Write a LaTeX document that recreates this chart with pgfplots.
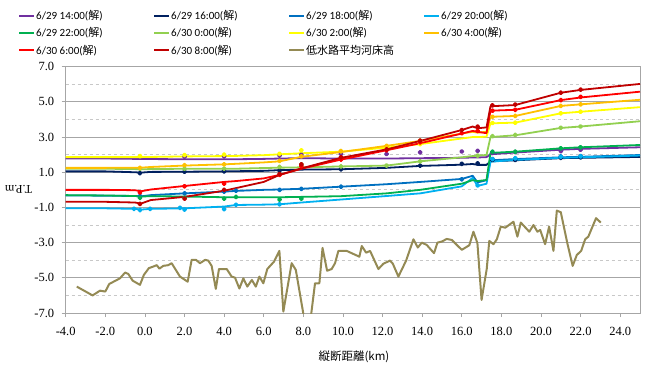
\documentclass[border=0pt]{standalone}
\usepackage{pgfplots}
\pgfplotsset{compat=1.18}
\usepackage{pgfplotstable}
\usepackage{fontspec}
\setmainfont{Liberation Serif}
\newfontfamily\calibri{Carlito}
\newfontfamily\cjk{Noto Sans CJK JP}
\definecolor{cA}{HTML}{7030A0}
\definecolor{cB}{HTML}{002060}
\definecolor{cC}{HTML}{0070C0}
\definecolor{cD}{HTML}{00B0F0}
\definecolor{cE}{HTML}{00B050}
\definecolor{cF}{HTML}{92D050}
\definecolor{cG}{HTML}{FFFF00}
\definecolor{cH}{HTML}{FFC000}
\definecolor{cI}{HTML}{FF0000}
\definecolor{cJ}{HTML}{C00000}
\definecolor{cR}{HTML}{948A54}
\definecolor{gridc}{HTML}{A6A6A6}
\definecolor{minc}{HTML}{C8C8C8}

\pgfplotstableread{
x     A    B    C     D     E     F    G    H    I     J
-4    1.78 1.05 -0.32 -1.05 -0.30 1.20 1.86 1.25 0.00  -0.68
-2    1.78 1.05 -0.33 -1.05 -0.32 1.20 1.86 1.25 0.00  -0.68
-0.5  1.76 1.00 -0.35 -1.08 -0.35 1.18 1.86 1.26 -0.02 -0.72
-0.2  1.75 0.98 -0.37 -1.12 -0.38 1.17 1.86 1.26 -0.08 -0.78
0.3   1.75 1.02 -0.30 -1.08 -0.36 1.18 1.87 1.30 0.02  -0.58
2     1.74 1.03 -0.20 -1.05 -0.38 1.20 1.90 1.38 0.22  -0.40
4     1.74 1.05 -0.10 -0.95 -0.42 1.20 1.92 1.45 0.45  -0.05
4.6   1.74 1.06 -0.06 -0.86 -0.42 1.20 1.93 1.48 0.50  0.10
6     1.76 1.08 0.00  -0.84 -0.42 1.24 1.97 1.56 0.65  0.45
6.8   1.78 1.12 0.02  -0.82 -0.42 1.26 2.02 1.62 0.85  0.85
7.9   1.80 1.15 0.06  -0.72 -0.40 1.28 2.08 1.88 1.20  1.22
9.9   1.78 1.17 0.18  -0.55 -0.36 1.33 2.17 2.15 1.72  1.82
12.2  1.78 1.25 0.32  -0.35 -0.20 1.38 2.40 2.50 2.25  2.30
13.9  1.80 1.36 0.45  -0.20 0.00  1.62 2.60 2.78 2.65  2.78
16.0  1.82 1.43 0.62  0.20  0.35  1.85 2.92 3.20 3.20  3.40
16.55 1.84 1.47 0.80  0.68  0.55  1.92 3.00 3.30 3.35  3.60
16.8  1.84 1.42 0.42  0.22  0.50  1.95 3.00 3.25 3.30  3.50
17.25 1.86 1.42 0.55  0.35  0.56  1.98 3.02 3.30 3.22  3.55
17.45 2.02 1.62 1.68  1.60  2.10  3.00 3.78 4.15 4.50  4.75
18.7  2.12 1.68 1.75  1.70  2.17  3.10 3.82 4.20 4.55  4.82
21.0  2.28 1.80 1.85  1.82  2.36  3.52 4.35 4.77 5.10  5.52
22.0  2.33 1.82 1.88  1.85  2.42  3.60 4.44 4.86 5.25  5.68
25.0  2.42 1.87 1.98  1.95  2.55  3.90 4.70 5.12 5.58  6.02
}\lines

\pgfplotstableread{
x     A    B    C     D     E     F    G    H    I     J
-0.55 nan  nan  nan   -1.08 nan   nan  nan  nan  nan   nan
-0.25 nan  0.95 -0.35 -1.15 -0.45 1.20 1.92 1.25 -0.15 -0.80
0.26  nan  nan  nan   -1.08 nan   nan  nan  nan  nan   nan
1.77  nan  nan  nan   -1.02 nan   nan  nan  nan  nan   nan
2.0   1.88 1.03 -0.20 -1.12 -0.45 1.20 1.98 1.40 0.20  -0.50
4.0   1.90 1.05 -0.10 -1.10 -0.50 1.20 2.00 1.45 0.35  0.00
4.6   nan  nan  -0.05 -0.85 -0.40 nan  nan  nan  nan   nan
6.8   1.95 1.10 0.00  -0.82 -0.55 1.30 2.05 1.65 0.85  0.90
7.9   2.00 nan  0.05  nan   -0.50 1.45 2.25 1.90 1.35  1.45
9.9   2.04 1.17 0.18  nan   nan   1.33 2.20 2.20 1.72  1.85
12.2  2.04 nan  nan   nan   nan   1.38 nan  2.50 2.25  2.30
13.9  2.13 1.38 nan   nan   nan   1.62 2.60 2.80 2.70  2.80
16.0  2.18 1.48 0.60  nan   nan   nan  nan  nan  3.22  3.40
16.8  2.22 1.50 nan   0.25  nan   1.95 nan  nan  3.35  3.60
17.55 2.10 1.70 1.75  1.75  2.17  3.05 3.80 4.15 4.50  4.80
18.7  2.15 1.70 1.78  1.80  2.17  3.12 3.82 4.20 4.55  4.85
21.0  2.20 1.82 1.90  1.88  2.36  3.53 4.35 4.77 5.10  5.52
22.0  2.28 1.85 1.92  1.90  2.42  3.60 4.44 4.86 5.28  5.70
}\marks

\pgfplotstableread{
x y
-3.44 -5.5
-2.64 -6.0
-2.27 -5.73
-2.0 -5.78
-1.8 -5.35
-1.26 -5.03
-1.0 -4.7
-0.84 -4.78
-0.62 -5.16
-0.25 -5.4
-0.05 -4.83
0.2 -4.45
0.42 -4.36
0.6 -4.28
0.73 -4.48
0.93 -4.32
1.18 -4.28
1.35 -4.17
1.77 -4.93
2.16 -5.22
2.36 -3.98
2.58 -3.98
2.78 -4.17
3.04 -3.98
3.2 -4.02
3.37 -4.32
3.58 -5.63
3.74 -4.5
4.13 -4.5
4.38 -4.93
4.55 -4.99
4.77 -5.61
4.97 -5.03
5.17 -5.5
5.4 -5.12
5.6 -5.5
5.78 -4.93
5.98 -5.31
6.18 -4.5
6.52 -4.08
6.79 -3.47
6.99 -6.92
7.41 -4.17
7.62 -4.55
8.04 -7.3
8.37 -7.3
8.59 -5.31
8.81 -5.31
8.97 -3.3
9.2 -4.6
9.43 -4.5
9.6 -4.17
9.77 -3.47
10.19 -3.47
10.83 -3.8
10.95 -3.19
11.17 -3.57
11.37 -3.47
11.79 -4.5
12.04 -4.2
12.38 -4.02
12.52 -4.2
12.8 -4.93
13.19 -4.02
13.56 -2.81
13.78 -3.28
13.98 -3.0
14.23 -3.13
14.6 -3.6
14.77 -3.0
14.99 -2.94
15.24 -2.79
15.5 -2.85
16.0 -3.41
16.38 -3.15
16.59 -2.38
16.79 -3.03
17.0 -6.26
17.26 -4.5
17.39 -2.9
17.6 -3.09
17.77 -2.81
17.97 -2.09
18.2 -2.15
18.61 -1.81
18.81 -2.66
18.98 -1.86
19.41 -2.38
19.62 -2.0
19.82 -2.38
19.96 -2.28
20.21 -3.09
20.41 -2.09
20.63 -3.47
20.8 -1.18
21.0 -1.27
21.33 -3.03
21.6 -4.32
21.81 -3.7
22.03 -3.47
22.23 -2.81
22.39 -2.66
22.78 -1.61
23.02 -1.86
}\bed

\newcommand{\legtxt}[1]{\makebox[116pt][l]{#1}}

\begin{document}
\begin{tikzpicture}
\useasboundingbox (-65.7pt,-55pt) rectangle (585.3pt,313pt);
\begin{axis}[
  at={(0pt,0pt)}, anchor=south west,
  scale only axis, width=574.3pt, height=246.3pt,
  xmin=-4, xmax=25, ymin=-7, ymax=7,
  xtick={-4,-2,...,24}, ytick={-7,-5,...,7}, minor ytick={-6,-4,...,6},
  ymajorgrids, yminorgrids,
  major grid style={gridc, line width=0.8pt},
  minor grid style={minc, dashed, line width=0.8pt},
  axis line style={gridc, line width=0.8pt},
  tick style={gridc, line width=0.8pt},
  tick align=outside, tick pos=left,
  major tick length=4pt, minor tick length=0pt,
  /pgf/number format/assume math mode=true,
  /pgf/number format/.cd, fixed, fixed zerofill, precision=1, /pgfplots/.cd,
  tick label style={font=\fontsize{12.5}{14}\selectfont},
  xticklabel style={yshift=-7pt},
  yticklabel style={xshift=-4pt},
  ylabel={T.P.m},
  ylabel style={at={(axis description cs:-0.082,0.503)}, anchor=center, rotate=90, font=\fontsize{12}{14}\selectfont},
  xlabel={{\cjk 縦断距離(km)}},
  xlabel style={at={(axis description cs:0.502,0)}, anchor=center, yshift=-43.7pt, font=\fontsize{11.5}{13}\selectfont},
  legend columns=4,
  legend image code/.code={\draw[#1, line width=2pt] (0pt,0pt) -- (15pt,0pt);},
  legend style={at={(axis description cs:-0.083,1.234)}, anchor=north west,
    draw=none, fill=none, inner sep=0pt, column sep=0pt, row sep=4.5pt,
    font=\calibri\fontsize{11}{13}\selectfont,
    nodes={inner sep=1pt, anchor=west}},
  every axis plot/.append style={line width=1.8pt, line join=round},
]
\addplot[cA, no marks] table[x=x,y=A]{\lines}; \addlegendentry{\legtxt{6/29 14:00({\cjk 解})}}
\addplot[cB, no marks] table[x=x,y=B]{\lines}; \addlegendentry{\legtxt{6/29 16:00({\cjk 解})}}
\addplot[cC, no marks] table[x=x,y=C]{\lines}; \addlegendentry{\legtxt{6/29 18:00({\cjk 解})}}
\addplot[cD, no marks] table[x=x,y=D]{\lines}; \addlegendentry{\legtxt{6/29 20:00({\cjk 解})}}
\addplot[cE, no marks] table[x=x,y=E]{\lines}; \addlegendentry{\legtxt{6/29 22:00({\cjk 解})}}
\addplot[cF, no marks] table[x=x,y=F]{\lines}; \addlegendentry{\legtxt{6/30 0:00({\cjk 解})}}
\addplot[cG, no marks] table[x=x,y=G]{\lines}; \addlegendentry{\legtxt{6/30 2:00({\cjk 解})}}
\addplot[cH, no marks] table[x=x,y=H]{\lines}; \addlegendentry{\legtxt{6/30 4:00({\cjk 解})}}
\addplot[cI, no marks] table[x=x,y=I]{\lines}; \addlegendentry{\legtxt{6/30 6:00({\cjk 解})}}
\addplot[cJ, no marks] table[x=x,y=J]{\lines}; \addlegendentry{\legtxt{6/30 8:00({\cjk 解})}}
\addplot[cR, no marks, line width=2pt] table[x=x,y=y]{\bed}; \addlegendentry{\legtxt{{\cjk 低水路平均河床高}}}
\addplot[forget plot, only marks, mark=*, mark size=1.6pt, cA] table[x=x,y=A]{\marks};
\addplot[forget plot, only marks, mark=*, mark size=1.6pt, cB] table[x=x,y=B]{\marks};
\addplot[forget plot, only marks, mark=*, mark size=1.6pt, cC] table[x=x,y=C]{\marks};
\addplot[forget plot, only marks, mark=*, mark size=1.6pt, cD] table[x=x,y=D]{\marks};
\addplot[forget plot, only marks, mark=*, mark size=1.6pt, cE] table[x=x,y=E]{\marks};
\addplot[forget plot, only marks, mark=*, mark size=1.6pt, cF] table[x=x,y=F]{\marks};
\addplot[forget plot, only marks, mark=*, mark size=1.6pt, cG] table[x=x,y=G]{\marks};
\addplot[forget plot, only marks, mark=*, mark size=1.6pt, cH] table[x=x,y=H]{\marks};
\addplot[forget plot, only marks, mark=*, mark size=1.6pt, cI] table[x=x,y=I]{\marks};
\addplot[forget plot, only marks, mark=*, mark size=1.6pt, cJ] table[x=x,y=J]{\marks};
\end{axis}
\end{tikzpicture}
\end{document}
